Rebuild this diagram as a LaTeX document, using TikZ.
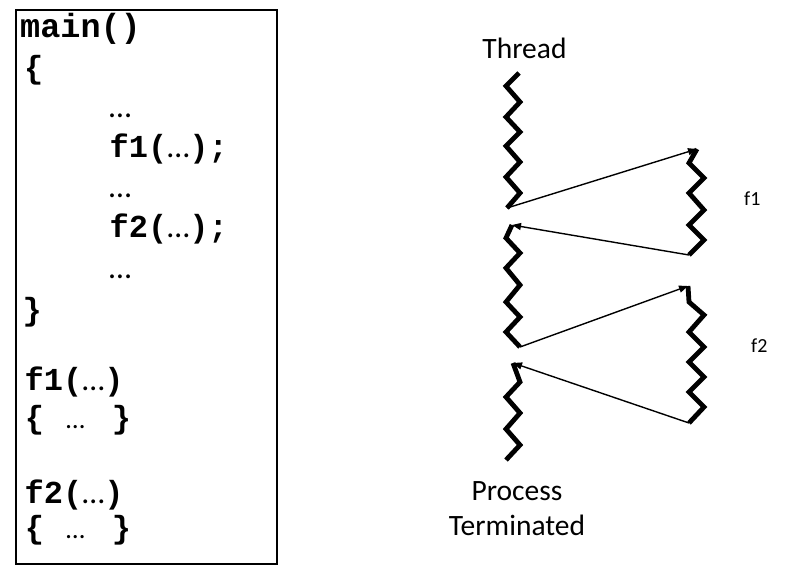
\documentclass[tikz,border=0pt]{standalone}
\usepackage{fontspec}
\setmainfont{Carlito}
\setmonofont{Liberation Mono}
\usetikzlibrary{arrows.meta}
\newcommand{\fsz}[1]{\fontsize{#1}{#1}\selectfont}
\newcommand{\el}{{\rmfamily\mdseries …}}
\begin{document}
\begin{tikzpicture}[x=1pt,y=-1pt,
  code/.style={anchor=base west, inner sep=0pt, font=\ttfamily\bfseries\fsz{32}},
  dotsline/.style={anchor=base west, inner sep=0pt, font=\fsz{32}},
  thr/.style={line width=4.8pt, line join=miter},
  call/.style={line width=1.4pt, -{Triangle[length=9pt,width=7pt]}},
  lbl/.style={anchor=base, inner sep=0pt, font=\fsz{29.5}},
  flbl/.style={anchor=base west, inner sep=0pt, font=\fsz{20}}]
\useasboundingbox (0,0) rectangle (806,581);

% code box
\draw[line width=1.3pt] (16,10) rectangle (277,564);
\node[code, font=\ttfamily\bfseries\fsz{33.5}] (lmain) at (20,37) {main()};
\node[code] (lob) at (24,78) {\{};
\node[dotsline] (ld1) at (109,117) {…};
\node[code] (lf1) at (109.5,157) {f1(\el);};
\node[dotsline] (ld2) at (109,197) {…};
\node[code] (lf2) at (109.5,237) {f2(\el);};
\node[dotsline] (ld3) at (109,278) {…};
\node[code] (lcb) at (22.5,320) {\}};
\node[code] (df1) at (24.5,390) {f1(\el)};
\node[code] (bf1) at (24.6,428) {\makebox[41.4pt][l]{\{}\makebox[45.6pt][l]{\rmfamily\mdseries\fsz{27}…}\}};
\node[code] (df2) at (24.5,503) {f2(\el)};
\node[code] (bf2) at (24.6,538) {\makebox[41.4pt][l]{\{}\makebox[45.6pt][l]{\rmfamily\mdseries\fsz{27}…}\}};

% labels
\node[lbl] (thread) at (524.5,58) {Thread};
\node[lbl] (proc) at (517,500) {Process};
\node[lbl] (term) at (517,535) {Terminated};
\node[flbl] (lab1) at (744,205) {f1};
\node[flbl] (lab2) at (751,352) {f2};

% endpoints
\coordinate (s1a) at (519,73);
\coordinate (s1b) at (507,208);
\coordinate (f1a) at (697,149);
\coordinate (f1b) at (689,255);
\coordinate (s2a) at (512,225);
\coordinate (s2b) at (520,347);
\coordinate (f2a) at (688,286);
\coordinate (f2b) at (689,423);
\coordinate (s3a) at (513,363);
\coordinate (s3b) at (506,460);

% thread segments
\draw[thr] (s1a) -- (506,86) -- (520,102) -- (506,117) -- (520,132) -- (506,146) -- (520,162) -- (506,177) -- (520,193) -- (s1b);
\draw[thr] (f1a) -- (689,163) -- (704,178) -- (689,193) -- (704,210) -- (689,225) -- (704,240) -- (f1b);
\draw[thr] (s2a) -- (506,238) -- (520,253) -- (506,268) -- (520,285) -- (506,302) -- (520,317) -- (506,332) -- (s2b);
\draw[thr] (f2a) -- (689,302) -- (704,315) -- (689,332) -- (704,347) -- (689,362) -- (704,377) -- (689,392) -- (704,407) -- (f2b);
\draw[thr] (s3a) -- (520,382) -- (506,397) -- (520,413) -- (506,429) -- (520,445) -- (s3b);

% calls and returns
\draw[call] (s1b) -- (f1a);
\draw[call] (f1b) -- (s2a);
\draw[call] (s2b) -- (f2a);
\draw[call] (f2b) -- (s3a);
\end{tikzpicture}
\end{document}
